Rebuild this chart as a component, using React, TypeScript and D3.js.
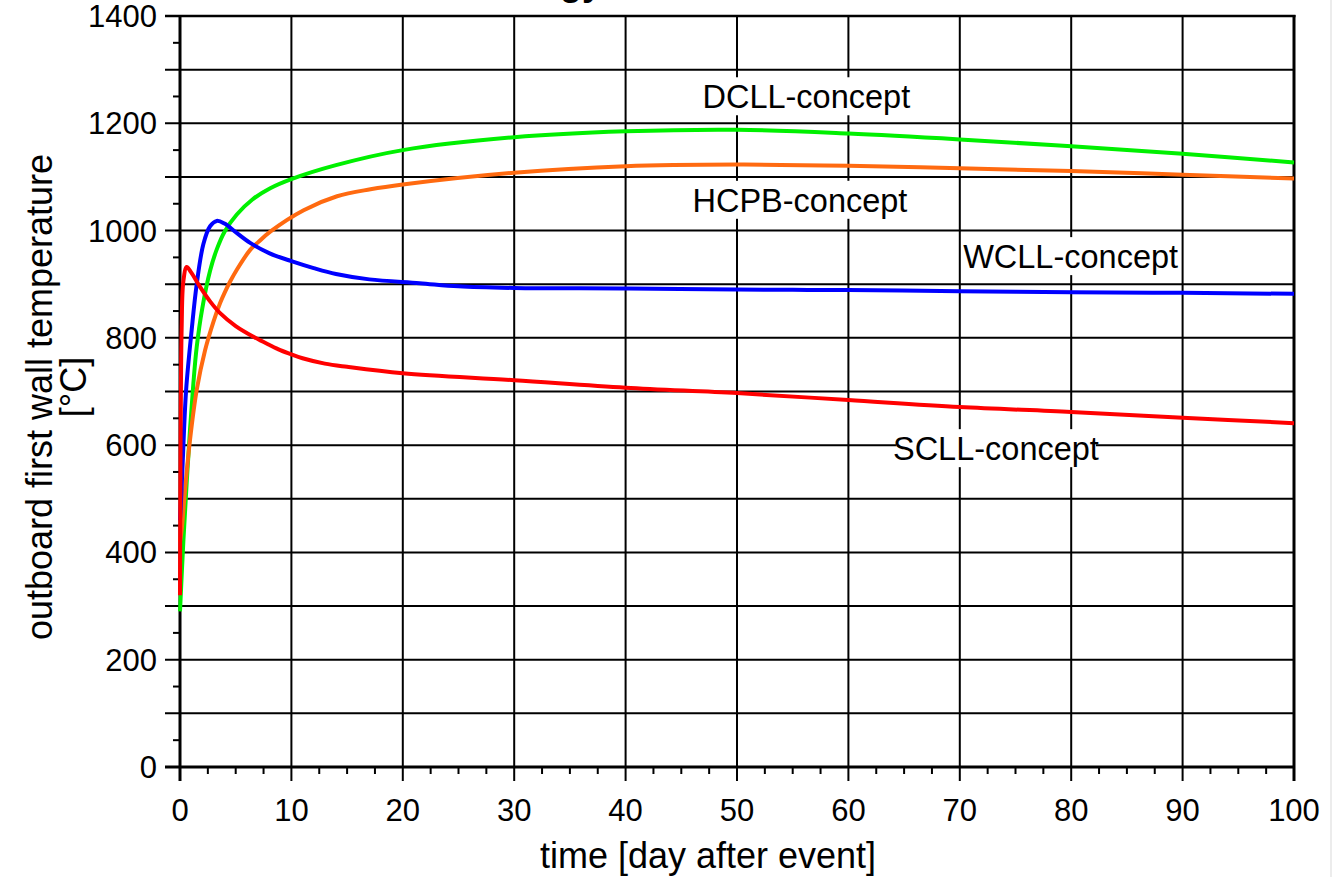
import React, { useEffect, useRef } from "react";
import * as d3 from "d3";

// tick labels
const xTickLabels = [0, 10, 20, 30, 40, 50, 60, 70, 80, 90, 100];
const yTickLabels = [0, 200, 400, 600, 800, 1000, 1200, 1400];

// DCLL-concept (green)
const dcllDays = [0, 0.3, 0.6, 0.9, 1.2, 1.5, 2, 2.7, 3.3, 4, 5.1, 6.5, 8.1, 10, 14, 20, 30, 40, 50, 60, 70, 80, 90, 100];
const dcllTemps = [290, 420, 530, 630, 715, 783, 855, 925, 965, 998, 1030, 1058, 1079, 1096, 1122, 1150, 1174, 1185, 1188, 1181, 1170, 1157, 1143, 1127];

// HCPB-concept (orange)
const hcpbDays = [0, 0.15, 0.45, 0.9, 1.5, 2.25, 3, 3.6, 4, 4.5, 5.1, 6.3, 7, 8.1, 11.1, 14.1, 17.1, 20, 30, 40, 50, 60, 70, 80, 90, 100];
const hcpbTemps = [420, 442, 516, 610, 703, 777, 830, 865, 884, 905, 927, 964, 978, 998, 1038, 1064, 1077, 1086, 1108, 1120, 1123, 1121, 1116, 1111, 1104, 1097];

// WCLL-concept (blue)
const wcllDays = [0, 0.1, 0.24, 0.55, 1.05, 1.5, 2.1, 2.7, 3.3, 4, 5, 6.3, 8, 10, 12, 14, 17, 21.5, 25, 30, 40, 50, 60, 70, 80, 90, 100];
const wcllTemps = [460, 500, 567, 703, 815, 900, 975, 1008, 1018, 1013, 997, 977, 958, 943, 930, 919, 909, 902, 896, 893, 892, 890, 889, 887, 885, 884, 882];

// SCLL-concept (red)
const scllDays = [0, 0.05, 0.15, 0.3, 0.6, 1, 1.8, 2.7, 3.6, 5, 6.6, 8, 9, 10, 11, 13, 15, 20, 30, 40, 50, 60, 70, 80, 90, 100];
const scllTemps = [320, 600, 820, 905, 932, 922, 895, 868, 846, 822, 802, 787, 777, 769, 762, 752, 746, 734, 721, 707, 697, 684, 671, 662, 651, 641];

const seriesNames = ["DCLL-concept", "HCPB-concept", "WCLL-concept", "SCLL-concept"];
const seriesColors = ["#00f000", "#ff6a10", "#0000ff", "#ff0000"];

// label anchors (day, temperature at baseline)
const labelDays = [46.9, 46.0, 70.3, 64.0];
const labelTemps = [1228, 1035, 930, 572];

export default function App() {
  const ref = useRef<SVGSVGElement | null>(null);

  useEffect(() => {
    if (!ref.current) return;
    const svg = d3.select(ref.current);
    svg.selectAll("*").remove();

    const font = "'Liberation Sans', Arial, sans-serif";
    const x = d3.scaleLinear().domain([0, 100]).range([180, 1294]);
    const y = d3.scaleLinear().domain([0, 1400]).range([767, 16]);

    svg.append("rect").attr("width", 1338).attr("height", 877).attr("fill", "#fff");

    // cut-off title
    svg
      .append("text")
      .attr("x", 560)
      .attr("y", -5)
      .attr("font-family", font)
      .attr("font-weight", "bold")
      .attr("font-size", 36)
      .text("gy");

    const grid = svg.append("g").attr("stroke", "#000");

    grid
      .selectAll("line.hy")
      .data(d3.range(0, 1401, 100))
      .enter()
      .append("line")
      .attr("x1", 165)
      .attr("x2", x(100))
      .attr("y1", (d) => y(d))
      .attr("y2", (d) => y(d))
      .attr("stroke-width", 2);

    grid
      .selectAll("line.my")
      .data(d3.range(50, 1400, 100))
      .enter()
      .append("line")
      .attr("x1", 173)
      .attr("x2", x(0))
      .attr("y1", (d) => y(d))
      .attr("y2", (d) => y(d))
      .attr("stroke-width", 2);

    grid
      .selectAll("line.vx")
      .data(xTickLabels)
      .enter()
      .append("line")
      .attr("x1", (d) => x(d))
      .attr("x2", (d) => x(d))
      .attr("y1", y(1400))
      .attr("y2", 781)
      .attr("stroke-width", 2);

    grid
      .selectAll("line.mx")
      .data(d3.range(2.5, 100, 2.5).filter((d) => d % 10 !== 0))
      .enter()
      .append("line")
      .attr("x1", (d) => x(d))
      .attr("x2", (d) => x(d))
      .attr("y1", y(0))
      .attr("y2", 774)
      .attr("stroke-width", 2);

    // frame
    grid.append("line").attr("x1", x(0)).attr("x2", x(0)).attr("y1", y(1400)).attr("y2", 781).attr("stroke-width", 3);
    grid.append("line").attr("x1", 165).attr("x2", x(100)).attr("y1", y(0)).attr("y2", y(0)).attr("stroke-width", 3);
    grid.append("line").attr("x1", x(100)).attr("x2", x(100)).attr("y1", y(1400) - 1).attr("y2", 781).attr("stroke-width", 3);
    grid.append("line").attr("x1", 165).attr("x2", x(100) + 1.5).attr("y1", y(1400)).attr("y2", y(1400)).attr("stroke-width", 2.5);

    // labels with white boxes
    seriesNames.forEach((name, i) => {
      const lg = svg.append("g");
      const bg = lg.append("rect").attr("fill", "#fff");
      const t = lg
        .append("text")
        .attr("x", x(labelDays[i]))
        .attr("y", y(labelTemps[i]))
        .attr("font-family", font)
        .attr("font-size", 32.5)
        .attr("fill", "#000")
        .text(name);
      const w = (t.node() as SVGTextElement).getComputedTextLength();
      bg.attr("x", x(labelDays[i]) + 3)
        .attr("width", w - 6)
        .attr("y", y(labelTemps[i]) - 31)
        .attr("height", 38);
    });

    // curves
    const days = [dcllDays, hcpbDays, wcllDays, scllDays];
    const temps = [dcllTemps, hcpbTemps, wcllTemps, scllTemps];
    const line = d3
      .line<[number, number]>()
      .x((d) => x(d[0]))
      .y((d) => y(d[1]))
      .curve(d3.curveCatmullRom.alpha(0.5));

    [0, 1, 2, 3].forEach((i) => {
      const pts = days[i].map((d, j) => [d, temps[i][j]] as [number, number]);
      svg
        .append("path")
        .attr("d", line(pts))
        .attr("fill", "none")
        .attr("stroke", seriesColors[i])
        .attr("stroke-width", 4)
        .attr("stroke-linejoin", "round");
    });

    // tick labels
    svg
      .append("g")
      .selectAll("text")
      .data(yTickLabels)
      .enter()
      .append("text")
      .attr("x", 157)
      .attr("y", (d) => y(d) + 11)
      .attr("text-anchor", "end")
      .attr("font-family", font)
      .attr("font-size", 31)
      .text((d) => d);

    svg
      .append("g")
      .selectAll("text")
      .data(xTickLabels)
      .enter()
      .append("text")
      .attr("x", (d) => x(d))
      .attr("y", 821)
      .attr("text-anchor", "middle")
      .attr("font-family", font)
      .attr("font-size", 31)
      .text((d) => d);

    // axis titles
    svg
      .append("text")
      .attr("transform", "translate(52,397) rotate(-90)")
      .attr("text-anchor", "middle")
      .attr("font-family", font)
      .attr("font-size", 36)
      .text("outboard first wall temperature");
    svg
      .append("text")
      .attr("transform", "translate(86,387) rotate(-90)")
      .attr("text-anchor", "middle")
      .attr("font-family", font)
      .attr("font-size", 36)
      .text("[°C]");
    svg
      .append("text")
      .attr("x", 708)
      .attr("y", 868)
      .attr("text-anchor", "middle")
      .attr("font-family", font)
      .attr("font-size", 36)
      .text("time [day after event]");

    // page edge
    svg.append("line").attr("x1", 1331).attr("x2", 1331).attr("y1", 0).attr("y2", 877).attr("stroke", "#e6e6e6").attr("stroke-width", 1.5);
  }, []);

  return (
    <svg
      ref={ref}
      width={1338}
      height={877}
      style={{ position: "absolute", left: 0, top: 0, display: "block" }}
    />
  );
}
